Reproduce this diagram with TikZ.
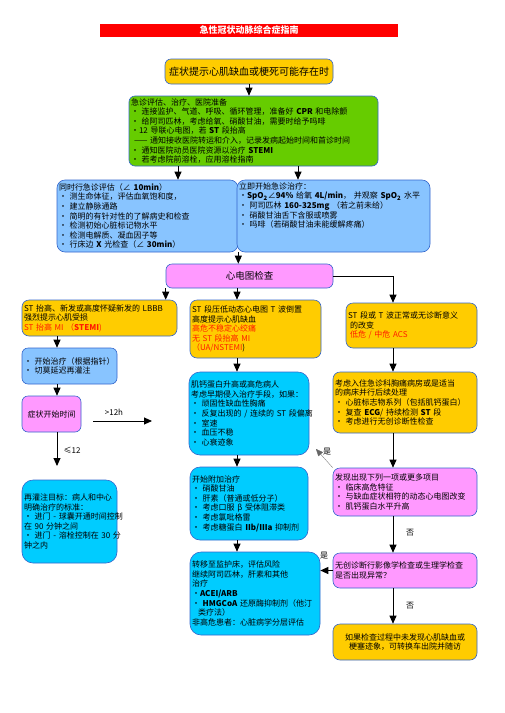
\documentclass[tikz,border=0pt]{standalone}
\usepackage{fontspec}
\setmainfont{Noto Sans CJK SC}
\usetikzlibrary{arrows.meta}
\definecolor{gold}{HTML}{FFCC00}
\definecolor{grn}{HTML}{66CC00}
\definecolor{lblue}{HTML}{88C4FF}
\definecolor{cyanb}{HTML}{00CCFF}
\definecolor{pinkb}{HTML}{FF99FF}
\definecolor{edgeb}{HTML}{3366CC}
\definecolor{redt}{HTML}{FF1A00}
\begin{document}
\begin{tikzpicture}[x=1pt,y=-1pt,
  box/.style={draw=edgeb, line width=0.6pt, rounded corners=6pt, inner sep=2pt,
    align=left, font=\fontsize{8}{9.6}\selectfont, anchor=center},
  arr/.style={-{Triangle[width=7pt,length=8pt]}, line width=0.9pt},
  thinarr/.style={-{Triangle[width=6pt,length=7pt]}, line width=0.3pt, draw=black!60},
  lbl/.style={font=\fontsize{8}{9.6}\selectfont, inner sep=0pt}]
\useasboundingbox (0,0) rectangle (504,713);
\fill[white] (0,0) rectangle (504,713);

% title bar
\node[fill=red, minimum width=298pt, minimum height=13pt, inner sep=0pt,
  font=\fontsize{9}{10}\selectfont\bfseries, text=white] (title) at (249,30.5) {急性冠状动脉综合症指南};

\coordinate (x178) at (178,0);
\coordinate (x298) at (298,0);
\coordinate (lx) at (57,0);
\coordinate (mx) at (237,0);
\coordinate (rx) at (393,0);

% box 1
\node[box, fill=gold, minimum width=168pt, minimum height=25pt, align=center,
  font=\fontsize{10}{12}\selectfont] (b1) at (249,71.5) {症状提示心肌缺血或梗死可能存在时};

% box 2
\node[box, fill=grn, text width=245pt, minimum height=70pt] (b2) at (253.5,131) {急诊评估、治疗、医院准备\\
•~连接监护、气道、呼吸、循环管理，准备好~\textbf{CPR}~和电除颤\\
•~给阿司匹林，考虑给氧、硝酸甘油，需要时给予吗啡\\
•12~导联心电图，若~\textbf{ST}~段抬高\\
\hspace*{3pt}——~通知接收医院转运和介入，记录发病起始时间和首诊时间\\
•~通知医院动员医院资源以治疗~\textbf{STEMI}\\
•~若考虑院前溶栓，应用溶栓指南};

% box 3
\node[box, fill=lblue, rounded corners=8pt, text width=177pt, minimum height=72pt] (b3) at (147.5,216) {同时行急诊评估（∠~\textbf{10min}）\\
•~测生命体征，评估血氧饱和度，\\
•~建立静脉通路\\
•~简明的有针对性的了解病史和检查\\
•~检测初始心脏标记物水平\\
•~检测电解质、凝血因子等\\
•~行床边~\textbf{X}~光检查（∠~\textbf{30min}）};

% box 4
\node[box, fill=lblue, rounded corners=8pt, text width=189pt, minimum height=72pt] (b4) at (333.5,216) {立即开始急诊治疗：\\
•\textbf{SpO\textsubscript{2}}∠\textbf{94\%}~给氧~\textbf{4L/min}，~并观察~\textbf{SpO\textsubscript{2}}~水平\\
•~阿司匹林~\textbf{160-325mg}~（若之前未给）\\
•~硝酸甘油舌下含服或喷雾\\
•~吗啡（若硝酸甘油未能缓解疼痛）\\[12pt]~};

% ECG
\node[box, fill=pinkb, minimum width=167pt, minimum height=24pt, align=center,
  font=\fontsize{9.5}{11}\selectfont] (ecg) at (249.5,276) {心电图检查};

% level boxes
\node[box, fill=gold, rounded corners=7pt, text width=151pt, minimum height=36pt] (bA) at (99.5,318) {ST~抬高、新发或高度怀疑新发的~LBBB\\
强烈提示心肌受损\\
{\color{redt}ST~抬高~MI~（\textbf{STEMI})}};

\node[box, fill=gold, rounded corners=7pt, text width=127pt, minimum height=58pt] (bB) at (255.5,329) {ST~段压低动态心电图~T~波倒置\\
高度提示心肌缺血\\
{\color{redt}高危不稳定心绞痛}\\
{\color{redt}无~ST~段抬高~MI}\\
{\color{redt}（UA/NSTEMI})};

\node[box, fill=gold, rounded corners=7pt, text width=127pt, minimum height=45pt] (bC) at (411.5,325.5) {ST~段或~T~波正常或无诊断意义\\
\hspace*{2pt}的改变\\
\hspace*{2pt}{\color{redt}低危~/~中危~ACS}};

% left column
\node[box, fill=lblue, text width=91pt, minimum height=36pt] (bD) at (69.5,366) {•~开始治疗（根据指针）\\
•~切莫延迟再灌注};

\node[box, fill=pinkb, minimum width=59pt, minimum height=36pt, align=center] (bE) at (51.5,414) {症状开始时间};

\node[box, fill=cyanb, rounded corners=11pt, text width=91pt, minimum height=83pt] (bG) at (69.5,521.5) {再灌注目标：病人和中心\\
明确治疗的标准：\\
\mbox{•~进门~-~球囊开通时间控制}\\
在~90~分钟之间\\
\mbox{•~进门~-~溶栓控制在~30~分}\\
钟之内};

\coordinate (t1) at (93,421);
\coordinate (t2) at (152,421);
\coordinate (t12) at (57,466);
\node[lbl] (l12h) at (114,412) {>12h};
\node[lbl] (lle12) at (72,450) {≤12};

% middle column
\node[box, fill=cyanb, rounded corners=11pt, text width=116pt, minimum height=83pt] (bF) at (249,413.5) {肌钙蛋白升高或高危病人\\
考虑早期侵入治疗手段，如果：\\
•~顽固性缺血性胸痛\\
\mbox{•~反复出现的~/~连续的~ST~段偏离}\\
•~室速\\
•~血压不稳\\
•~心衰迹象};

\node[box, fill=cyanb, rounded corners=10pt, text width=114pt, minimum height=73pt] (bI) at (249,503.5) {开始附加治疗\\
•~硝酸甘油\\
•~肝素（普通或低分子）\\
•~考虑口服~β~受体阻滞类\\
•~考虑氯吡格雷\\
\mbox{•~考虑糖蛋白~\textbf{IIb/IIIa}~抑制剂}};

\node[box, fill=cyanb, rounded corners=11pt, text width=126pt, minimum height=83pt] (bJ) at (255,593.5) {转移至监护床，评估风险\\
继续阿司匹林，肝素和其他\\
治疗\\
•\textbf{ACEI/ARB}\\
\mbox{•~\textbf{HMGCoA}~还原酶抑制剂（他汀}\\
\hspace*{6pt}类疗法）\\
非高危患者：心脏病学分层评估};

% right column
\node[box, fill=gold, rounded corners=7pt, text width=140pt, minimum height=61pt] (bL) at (405,402.5) {考虑入住急诊科胸痛病房或是适当\\
的病床并行后续处理\\
•~心脏标志物系列（包括肌钙蛋白）\\
\mbox{•~复查~\textbf{ECG}/~持续检测~\textbf{ST}~段}\\
•~考虑进行无创诊断性检查};

\node[box, fill=pinkb, rounded corners=7pt, text width=140pt, minimum height=48pt] (bH) at (405,492) {发现出现下列一项或更多项目\\
•~临床高危特征\\
•~与缺血症状相符的动态心电图改变\\
•~肌钙蛋白水平升高};

\node[box, fill=pinkb, rounded corners=7pt, text width=140pt, minimum height=35pt] (bK) at (405,570.5) {无创诊断行影像学检查或生理学检查\\
是否出现异常？};

\node[box, fill=gold, rounded corners=7pt, minimum width=144pt, minimum height=36pt, align=center] (bM) at (405,642) {如果检查过程中未发现心肌缺血或\\
梗塞迹象，可转换车出院并随访};

\node[lbl] (ly1) at (327,452) {是};
\node[lbl] (ly2) at (324,556) {是};
\node[lbl] (ln1) at (410,533) {否};
\node[lbl] (ln2) at (410,606) {否};
\coordinate (tipF) at (316,449);

% connectors
\draw[arr] (b1.south) -- (b1.south |- b2.north);
\draw[arr] (b2.south -| x178) -- (b3.north -| x178);
\draw[arr] (b2.south -| x298) -- (b4.north -| x298);
\draw[arr] (b3.south east) -- (b3.south east |- ecg.north);
\draw[arr] (ecg.south west) -- (ecg.south west |- bA.north);
\draw[arr] (ecg.south -| mx) -- (bB.north -| mx);
\draw[arr] (ecg.east) -- (ecg.east -| rx) -- (bC.north -| rx);
\draw[arr] (bA.south -| lx) -- (bD.north -| lx);
\draw[arr] (bD.south -| lx) -- (bE.north -| lx);
\draw[arr] (bE.south -| lx) -- (t12);
\draw[arr] (t1) -- (t2);
\draw[arr] (bB.south -| mx) -- (bF.north -| mx);
\draw[arr] (bF.south -| mx) -- (bI.north -| mx);
\draw[arr] (bI.south -| mx) -- (bJ.north -| mx);
\draw[arr] (bC.south -| rx) -- (bL.north -| rx);
\draw[arr] (bL.south -| rx) -- (bH.north -| rx);
\draw[arr] (bH.south -| rx) -- (bK.north -| rx);
\draw[arr] (bK.south -| rx) -- (bM.north -| rx);
\draw[thinarr] (bH.north west) -- (tipF);
\draw[arr] (bK.west) -- (bK.west -| bJ.east);
\end{tikzpicture}
\end{document}
